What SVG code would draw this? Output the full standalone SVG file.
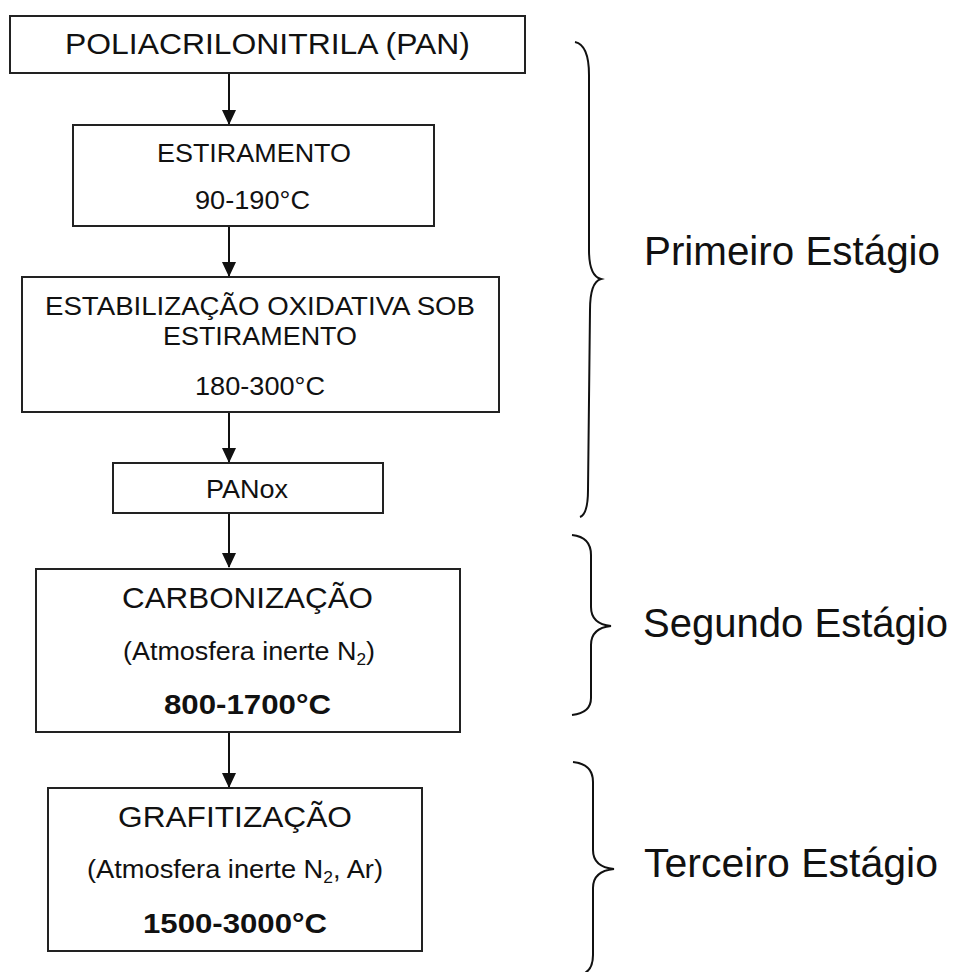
<svg xmlns="http://www.w3.org/2000/svg" width="954" height="972" viewBox="0 0 954 972">
<style>
.box{fill:#fff;stroke:#222;stroke-width:2}
.t{font-family:"Liberation Sans",Arial,sans-serif;fill:#111;text-anchor:middle}
.b{font-weight:bold}
.stage{font-family:"Liberation Sans",Arial,sans-serif;fill:#111;font-size:41px}
.conn{stroke:#111;stroke-width:2;fill:none;marker-end:url(#ah)}
.brace{stroke:#111;stroke-width:2;fill:none}
</style>
<defs>
<marker id="ah" markerUnits="userSpaceOnUse" markerWidth="15" markerHeight="14" viewBox="0 0 15 14" refX="14" refY="7" orient="auto">
<path d="M0,0 L15,7 L0,14 Z" fill="#111"/>
</marker>
</defs>
<rect width="954" height="972" fill="#fff"/>
<g id="connectors">
<path class="conn" d="M229,73 V124"/>
<path class="conn" d="M229,226 V276"/>
<path class="conn" d="M229,412 V462"/>
<path class="conn" d="M229,513 V567"/>
<path class="conn" d="M229,732 V787"/>
</g>
<g id="pan">
<rect class="box" x="10" y="16" width="515" height="57"/>
<text class="t" x="267.5" y="54" font-size="29" textLength="405" lengthAdjust="spacingAndGlyphs">POLIACRILONITRILA (PAN)</text>
</g>
<g id="estiramento">
<rect class="box" x="73" y="125" width="361" height="101"/>
<text class="t" x="254" y="162" font-size="26" textLength="194" lengthAdjust="spacingAndGlyphs">ESTIRAMENTO</text>
<text class="t" x="252.5" y="209" font-size="26" textLength="115" lengthAdjust="spacingAndGlyphs">90-190°C</text>
</g>
<g id="estabilizacao">
<rect class="box" x="22" y="277" width="477" height="135"/>
<text class="t" x="260" y="315" font-size="26" textLength="430" lengthAdjust="spacingAndGlyphs">ESTABILIZAÇÃO OXIDATIVA SOB</text>
<text class="t" x="260" y="345" font-size="26" textLength="194" lengthAdjust="spacingAndGlyphs">ESTIRAMENTO</text>
<text class="t" x="260" y="395" font-size="26" textLength="130" lengthAdjust="spacingAndGlyphs">180-300°C</text>
</g>
<g id="panox">
<rect class="box" x="113" y="463" width="270" height="50"/>
<text class="t" x="247" y="498" font-size="25" textLength="82" lengthAdjust="spacingAndGlyphs">PANox</text>
</g>
<g id="carbonizacao">
<rect class="box" x="36" y="569" width="424" height="163"/>
<text class="t" x="247.5" y="608" font-size="29" textLength="251" lengthAdjust="spacingAndGlyphs">CARBONIZAÇÃO</text>
<text class="t" x="249" y="660" font-size="25" textLength="252" lengthAdjust="spacingAndGlyphs">(Atmosfera inerte N<tspan font-size="16" dy="5">2</tspan><tspan dy="-5">)</tspan></text>
<text class="t b" x="247.5" y="714" font-size="28" textLength="167" lengthAdjust="spacingAndGlyphs">800-1700°C</text>
</g>
<g id="grafitizacao">
<rect class="box" x="48" y="788" width="374" height="163"/>
<text class="t" x="235" y="827" font-size="29" textLength="234" lengthAdjust="spacingAndGlyphs">GRAFITIZAÇÃO</text>
<text class="t" x="235" y="878" font-size="25" textLength="296" lengthAdjust="spacingAndGlyphs">(Atmosfera inerte N<tspan font-size="16" dy="5">2</tspan><tspan dy="-5">, Ar)</tspan></text>
<text class="t b" x="235" y="933" font-size="28" textLength="184" lengthAdjust="spacingAndGlyphs">1500-3000°C</text>
</g>
<g id="primeiro-estagio">
<path class="brace" d="M575,42 Q589,45 589,75 L589,250 Q589,276 601,279 Q590,282 590,310 L588,490 Q588,514 580,517"/>
<text class="stage" x="644" y="265" textLength="296" lengthAdjust="spacingAndGlyphs">Primeiro Estágio</text>
</g>
<g id="segundo-estagio">
<path class="brace" d="M572,535 Q591,537 591,555 L591,607 Q591,624 611,626 Q591,628 591,645 L591,698 Q591,713 572,715"/>
<text class="stage" x="643" y="637" textLength="305" lengthAdjust="spacingAndGlyphs">Segundo Estágio</text>
</g>
<g id="terceiro-estagio">
<path class="brace" d="M573,762 Q593,764 593,782 L593,850 Q593,867 614,869 Q593,871 593,888 L593,955 Q593,970 583,974"/>
<text class="stage" x="644" y="877" textLength="294" lengthAdjust="spacingAndGlyphs">Terceiro Estágio</text>
</g>
</svg>
